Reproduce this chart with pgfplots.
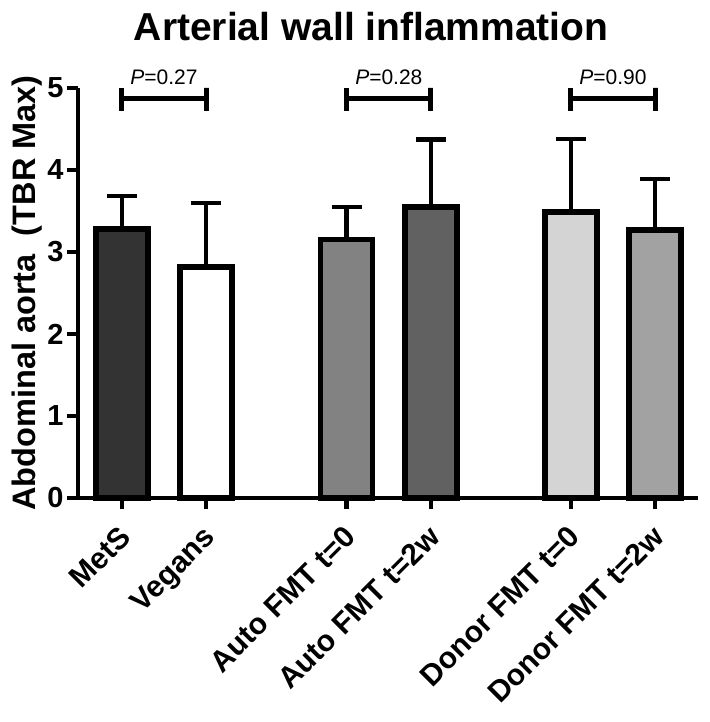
\documentclass[border=0pt]{standalone}
\usepackage{pgfplots}
\pgfplotsset{compat=1.18}
\usepackage{fontspec}
\setmainfont{Liberation Sans}
\definecolor{cA}{HTML}{333333}
\definecolor{cB}{HTML}{FFFFFF}
\definecolor{cC}{HTML}{828282}
\definecolor{cD}{HTML}{616161}
\definecolor{cE}{HTML}{D4D4D4}
\definecolor{cF}{HTML}{A2A2A2}
\begin{document}
\begin{tikzpicture}
\begin{axis}[
  scale only axis, width=620pt, height=410pt,
  at={(0pt,0pt)}, anchor=south west,
  xmin=-0.52, xmax=6.84, ymin=0, ymax=5,
  axis x line*=bottom, axis y line*=left,
  axis line style={line width=4.5pt, black},
  ytick={0,1,2,3,4,5},
  xtick={0,1,2.67,3.67,5.33,6.33},
  xticklabels={MetS, Vegans, Auto FMT t=0, Auto FMT t=2w, Donor FMT t=0, Donor FMT t=2w},
  tick style={line width=4.5pt, black},
  major tick length=11pt, tick align=outside,
  /pgf/number format/assume math mode=true,
  yticklabel style={font=\fontsize{29}{30}\selectfont\bfseries},
  xticklabel style={font=\fontsize{30}{32}\selectfont\bfseries, xshift=-4pt, yshift=-15pt, rotate=45, anchor=north east, inner sep=0pt},
  ylabel={Abdominal aorta\ \ (TBR Max)},
  ylabel style={font=\fontsize{32.5}{34}\selectfont\bfseries},
  ylabel shift=-2pt,
  ybar, bar width=52pt, bar shift=0pt,
  clip=false,
  every axis plot/.append style={draw=black, line width=5.5pt},
]
\pgfplotsset{errstyle/.style={error bars/.cd, y dir=plus, y explicit,
   error mark=|,
   error bar style={line width=4.5pt, black},
   error mark options={line width=4.5pt, mark size=15pt, black}}}
\addplot[fill=cA, errstyle] coordinates {(0,3.28) +- (0,0.40)};
\addplot[fill=cB, errstyle] coordinates {(1,2.82) +- (0,0.78)};
\addplot[fill=cC, errstyle] coordinates {(2.67,3.15) +- (0,0.40)};
\addplot[fill=cD, errstyle] coordinates {(3.67,3.55) +- (0,0.82)};
\addplot[fill=cE, errstyle] coordinates {(5.33,3.49) +- (0,0.89)};
\addplot[fill=cF, errstyle] coordinates {(6.33,3.27) +- (0,0.62)};
% significance brackets
\addplot[sharp plot, no marks, line width=5pt, line join=bevel] coordinates {(0,5.0) (0,4.72) (0,4.87) (1,4.87) (1,5.0) (1,4.72)};
\addplot[sharp plot, no marks, line width=5pt, line join=bevel] coordinates {(2.67,5.0) (2.67,4.72) (2.67,4.87) (3.67,4.87) (3.67,5.0) (3.67,4.72)};
\addplot[sharp plot, no marks, line width=5pt, line join=bevel] coordinates {(5.33,5.0) (5.33,4.72) (5.33,4.87) (6.33,4.87) (6.33,5.0) (6.33,4.72)};
\node[font=\fontsize{21}{22}\selectfont] at (axis cs:0.5,5.13) {\textit{P}=0.27};
\node[font=\fontsize{21}{22}\selectfont] at (axis cs:3.17,5.13) {\textit{P}=0.28};
\node[font=\fontsize{21}{22}\selectfont] at (axis cs:5.83,5.13) {\textit{P}=0.90};
\node[font=\fontsize{39}{42}\selectfont\bfseries] at (axis cs:2.96,5.75) {Arterial wall inflammation};
\end{axis}
\pgfresetboundingbox
\useasboundingbox (-78pt,-224pt) rectangle (631pt,498pt);
\end{tikzpicture}
\end{document}
